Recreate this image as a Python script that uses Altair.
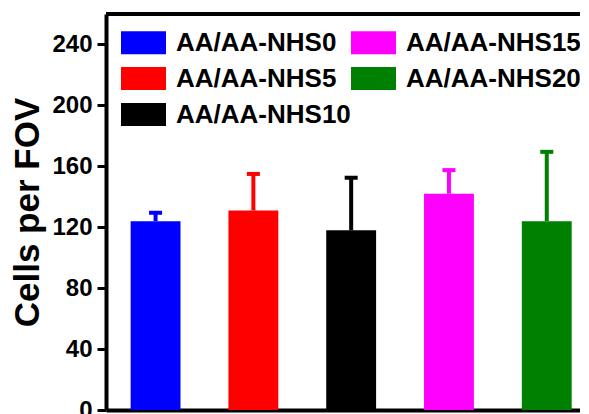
import altair as alt
import pandas as pd

categories = ["AA/AA-NHS0", "AA/AA-NHS5", "AA/AA-NHS10", "AA/AA-NHS15", "AA/AA-NHS20"]
means = [124, 131, 118, 142, 124]
uppers = [129.5, 155, 152.5, 157.5, 169.5]
colors = ["#0000FF", "#FF0000", "#000000", "#FF00FF", "#008000"]
y_ticks = [0, 40, 80, 120, 160, 200, 240]
y_minor = [20, 60, 100, 140, 180, 220]
y_max = 260

df = pd.DataFrame({"group": categories, "mean": means, "upper": uppers})

FONT = "Liberation Sans"

xenc = alt.X(
    "group:N",
    sort=categories,
    scale=alt.Scale(paddingInner=0.49, paddingOuter=0.1684, align=0.748),
    axis=alt.Axis(labels=False, ticks=False, title=None, domainColor="black", domainWidth=4),
)
yenc = alt.Y(
    "mean:Q",
    scale=alt.Scale(domain=[0, y_max], nice=False, zero=True),
    axis=alt.Axis(
        values=sorted(y_ticks + y_minor),
        labelExpr="datum.value % 40 === 0 ? datum.label : ''",
        tickSize={"condition": {"test": "datum.value % 40 === 0", "value": 9}, "value": 5},
        tickWidth=3,
        tickColor="black",
        domainColor="black",
        domainWidth=4,
        grid=False,
        labelFont=FONT,
        labelFontSize=24,
        labelFontWeight="bold",
        labelColor="black",
        labelPadding=5,
        title="Cells per FOV",
        titleFont=FONT,
        titleFontSize=35,
        titleFontWeight="bold",
        titleColor="black",
        titlePadding=6,
    ),
)
cenc = alt.Color(
    "group:N",
    sort=categories,
    scale=alt.Scale(domain=categories, range=colors),
    legend=alt.Legend(
        title=None,
        orient="none",
        legendX=15,
        legendY=6,
        columns=2,
        columnPadding=-3,
        rowPadding=-6,
        symbolType="M-1,-0.51H1V0.51H-1Z",
        symbolSize=2025,
        symbolStrokeWidth=0,
        symbolOpacity=1,
        labelFont=FONT,
        labelFontSize=26,
        labelFontWeight="bold",
        labelColor="black",
        labelOffset=10,
        labelLimit=400,
    ),
)

bars = alt.Chart(df).mark_bar(opacity=1).encode(x=xenc, y=yenc, color=cenc)

stems = alt.Chart(df).mark_rule(strokeWidth=4).encode(
    x=alt.X("group:N", sort=categories),
    y="mean:Q",
    y2="upper:Q",
    color=alt.Color("group:N", sort=categories, legend=None),
)
caps = alt.Chart(df).mark_tick(thickness=4, size=13, opacity=1).encode(
    x=alt.X("group:N", sort=categories),
    y="upper:Q",
    color=alt.Color("group:N", sort=categories, legend=None),
)
frame_top = alt.Chart(df).mark_rule(strokeWidth=4, color="black").encode(
    y=alt.datum(y_max)
)

chart = (
    alt.layer(bars, stems, caps, frame_top)
    .properties(
        width=474,
        height=396,
        autosize=alt.AutoSizeParams(type="none"),
        padding={"left": 98, "top": 6, "right": 0, "bottom": 4},
        background="white",
    )
    .configure_view(stroke=None)
)

chart.save("out.html", embed_options={"renderer": "svg", "actions": False})
